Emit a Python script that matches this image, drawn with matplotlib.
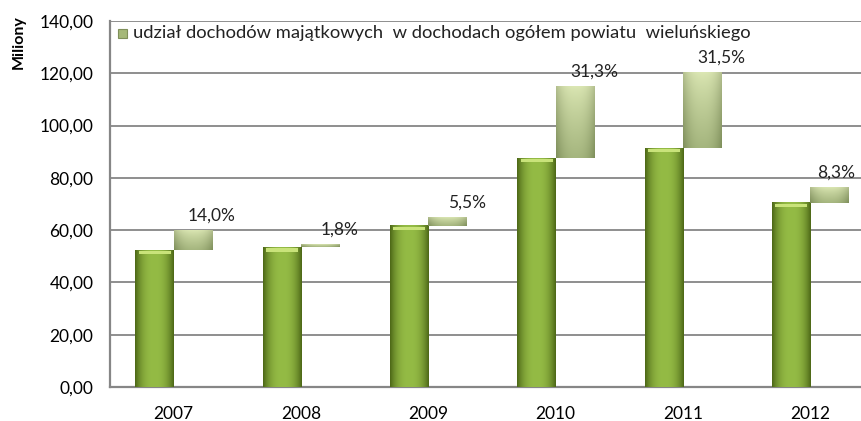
import numpy as np
import matplotlib
matplotlib.use('Agg')
import matplotlib.pyplot as plt
from matplotlib.colors import to_rgb

# data (millions PLN)
years = ['2007', '2008', '2009', '2010', '2011', '2012']
dochody_ogolem = [52.4, 53.4, 61.6, 87.5, 91.3, 70.5]      # total income (green bars)
dochody_majatkowe = [7.3, 1.0, 3.4, 27.4, 28.8, 5.9]       # property income (floating bars)
udzial_pct = [14.0, 1.8, 5.5, 31.3, 31.5, 8.3]             # share labels
y_ticks = [0, 20, 40, 60, 80, 100, 120, 140]

plt.rcParams['font.family'] = ['Lato', 'DejaVu Sans']


def shade_bar(ax, patch, c_edge, c_mid, c_top=None, c_bottom=None):
    # horizontal gradient (dark edges, lighter middle), optional vertical tint
    x0, y0 = patch.get_x(), patch.get_y()
    w, h = patch.get_width(), patch.get_height()
    nx, ny = 40, 60
    t = np.abs(np.linspace(-1, 1, nx)) ** 2.5
    edge, mid = np.array(to_rgb(c_edge)), np.array(to_rgb(c_mid))
    row = mid[None, :] * (1 - t[:, None]) + edge[None, :] * t[:, None]
    img = np.repeat(row[None, :, :], ny, axis=0)
    if c_top is not None:
        top, bot = np.array(to_rgb(c_top)), np.array(to_rgb(c_bottom))
        v = np.linspace(0, 1, ny)[:, None, None] ** 0.8  # 0 = top row
        tint = top * (1 - v) + bot * v
        img = 0.45 * img + 0.55 * tint
    ax.imshow(img, extent=(x0, x0 + w, y0, y0 + h), origin='upper',
              aspect='auto', zorder=patch.get_zorder(), interpolation='bilinear')
    patch.set_alpha(0)


fig = plt.figure(figsize=(8.61, 4.21), dpi=100)
ax = fig.add_axes([110 / 861, 34 / 421, 764 / 861, 366 / 421])

x = np.arange(len(years))
w = 0.30
green = ax.bar(x - w, dochody_ogolem, width=w, align='edge', color='#8db43f', zorder=3)
floating = ax.bar(x, dochody_majatkowe, width=w, bottom=dochody_ogolem, align='edge',
                  color='#b9cc8a', zorder=3)

for p in green:
    shade_bar(ax, p, '#4f6a18', '#94bb45')
    # light cap on top of the green bar
    ax.bar(p.get_x() + p.get_width() * 0.08, 1.2, width=p.get_width() * 0.84,
           bottom=p.get_height() - 1.6, align='edge', color='#c9e37a', zorder=4)
for p in floating:
    shade_bar(ax, p, '#6f7f4c', '#c4d49a', '#eef6c8', '#8c9d68')

# percentage labels (last one pulled in so it stays inside the picture)
for xi, top, pct in zip(x, np.add(dochody_ogolem, dochody_majatkowe), udzial_pct):
    ax.annotate(f'{pct:.1f}%'.replace('.', ','), (min(xi + 0.3, 5.2), top), xytext=(0, 5),
                textcoords='offset points', ha='center', va='bottom',
                fontsize=12.5, color='#222222')

ax.set_xlim(-0.5, 5.5)
ax.set_ylim(0, 140)
ax.set_yticks(y_ticks)
ax.set_yticklabels([f'{v:.2f}'.replace('.', ',') for v in y_ticks], fontsize=12.5)
ax.set_xticks(x)
ax.set_xticklabels(years, fontsize=12.5)
ax.tick_params(length=0)
ax.tick_params(axis='y', pad=12)
ax.tick_params(axis='x', pad=14)
ax.grid(axis='y', color='#868686', linewidth=1.3, zorder=0)
ax.set_axisbelow(True)
for s in ['left', 'bottom']:
    ax.spines[s].set_color('#868686')
    ax.spines[s].set_linewidth(1.6)
ax.spines['right'].set_visible(False)
ax.spines['top'].set_visible(False)

# y label placed at the top like in the original
fig.text(19 / 861, 1 - 42 / 421, 'Miliony', rotation=90, fontsize=11.5,
         fontweight='bold', ha='center', va='center')

# legend
fig.patches.append(plt.Rectangle((118 / 861, 1 - 38 / 421), 9 / 861, 9 / 421,
                                 transform=fig.transFigure, facecolor='#a5b878',
                                 edgecolor='#7f8f5a', linewidth=0.8))
fig.text(133 / 861, 1 - 33 / 421,
         'udział dochodów majątkowych  w dochodach ogółem powiatu  wieluńskiego',
         fontsize=13.2, ha='left', va='center', color='#222222')

fig.savefig('out.png', dpi=100)
